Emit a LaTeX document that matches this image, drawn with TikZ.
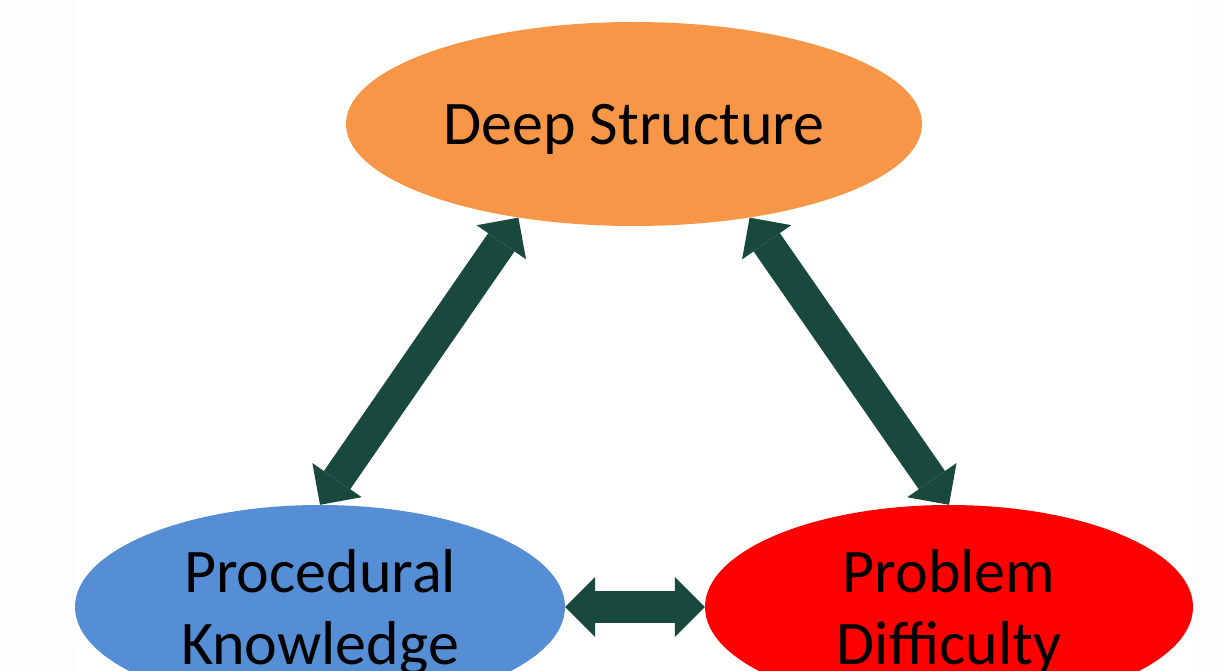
\documentclass[tikz,border=0pt]{standalone}
\usepackage{fontspec}
\setmainfont{Carlito}
\usetikzlibrary{shapes.geometric,arrows.meta}
\definecolor{dsorange}{HTML}{F79646}
\definecolor{pkblue}{HTML}{558ED5}
\definecolor{pdred}{HTML}{FF0000}
\definecolor{arrowgreen}{HTML}{19483D}
\definecolor{strip}{HTML}{FDFDFD}
\tikzset{
  blob/.style={ellipse, draw=none, inner sep=0pt, minimum width=#1, minimum height=204pt, align=center, text depth=0pt, font=\fontsize{62}{72}\selectfont},
  dblarrow/.style={draw=arrowgreen, line width=32pt,
    {Triangle[length=30pt,width=60pt,line width=0pt]}-{Triangle[length=30pt,width=60pt,line width=0pt]}}
}
\begin{document}
\begin{tikzpicture}[x=1pt,y=-1pt]
\useasboundingbox (0,0) rectangle (1225,671);
\clip (0,0) rectangle (1225,671);
\fill[white] (0,0) rectangle (1225,671);
\fill[strip] (0,0) rectangle (76,671);
\fill[strip] (1194,0) rectangle (1225,671);
\node[blob=576pt, fill=dsorange] (ds) at (634,124) {Deep Structure};
\node[blob=490pt, fill=pkblue] (pk) at (320,607) {Procedural\\Knowledge};
\node[blob=488pt, fill=pdred] (pd) at (949,607) {Problem\\Difficulty};
\draw[dblarrow] (pk.north) -- (ds.219);
\draw[dblarrow] (ds.321) -- (pd.north);
\draw[dblarrow] (pk.east) -- (pd.west);
\end{tikzpicture}
\end{document}
